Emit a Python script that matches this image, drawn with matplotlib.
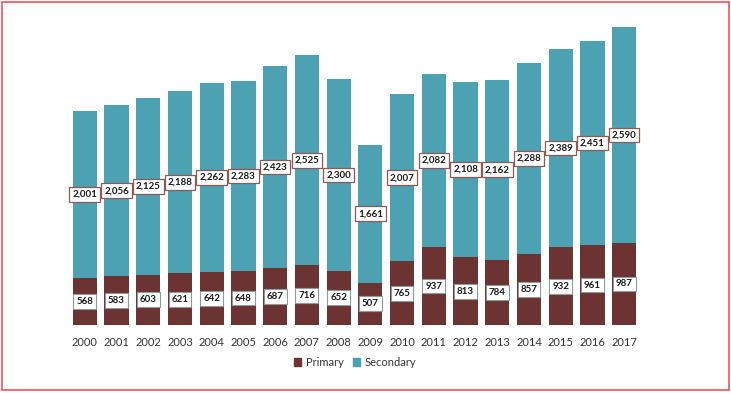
import matplotlib.pyplot as plt
import numpy as np
from matplotlib.patches import Rectangle, Patch

# data
years = ['2000', '2001', '2002', '2003', '2004', '2005', '2006', '2007', '2008',
         '2009', '2010', '2011', '2012', '2013', '2014', '2015', '2016', '2017']
primary = [568, 583, 603, 621, 642, 648, 687, 716, 652,
           507, 765, 937, 813, 784, 857, 932, 961, 987]
secondary = [2001, 2056, 2125, 2188, 2262, 2283, 2423, 2525, 2300,
             1661, 2007, 2082, 2108, 2162, 2288, 2389, 2451, 2590]

c_prim = '#6b3432'
c_sec = '#4ca2b3'

plt.rcParams['font.family'] = ['Lato', 'DejaVu Sans']

fig = plt.figure(figsize=(7.31, 3.93), dpi=100)
ax = fig.add_axes([61 / 731, 68 / 393, 587 / 731, 308 / 393])

x = np.arange(len(years))
prim = np.array(primary)
sec = np.array(secondary)
ax.bar(x, prim, width=0.76, color=c_prim)
ax.bar(x, sec, width=0.76, bottom=prim, color=c_sec)

# value labels in small boxes
for i in range(len(years)):
    ax.text(x[i], prim[i] / 2, f'{prim[i]:,}', ha='center', va='center',
            fontsize=7, fontweight='bold', color='#1a1a1a',
            bbox=dict(boxstyle='square,pad=0.3', fc='white', ec='#8f9a9a', lw=0.8))
    ax.text(x[i], prim[i] + sec[i] / 2, f'{sec[i]:,}', ha='center', va='center',
            fontsize=7, fontweight='bold', color='#1a1a1a',
            bbox=dict(boxstyle='square,pad=0.3', fc='white', ec='#8a5a55', lw=0.9))

ax.set_xlim(-0.75, 17.75)
ax.set_ylim(0, 3700)
ax.set_xticks(x)
ax.set_xticklabels(years, fontsize=8, color='#333333')
ax.tick_params(axis='x', length=0, pad=9)
ax.set_yticks([])
for s in ax.spines.values():
    s.set_visible(False)

handles = [Patch(color=c_prim, label='Primary'), Patch(color=c_sec, label='Secondary')]
fig.legend(handles=handles, loc='center', bbox_to_anchor=(355 / 731, 1 - 362 / 393),
           ncol=2, frameon=False, fontsize=8, handlelength=0.7, handleheight=0.7,
           handletextpad=0.4, columnspacing=0.8, labelcolor='#333333')

# red outer frame
fig.patches.append(Rectangle((2 / 731, 3 / 393), 727 / 731, 388 / 393,
                             transform=fig.transFigure, fill=False,
                             ec='#e8585c', lw=1.2))

plt.savefig('out.png', dpi=100)
